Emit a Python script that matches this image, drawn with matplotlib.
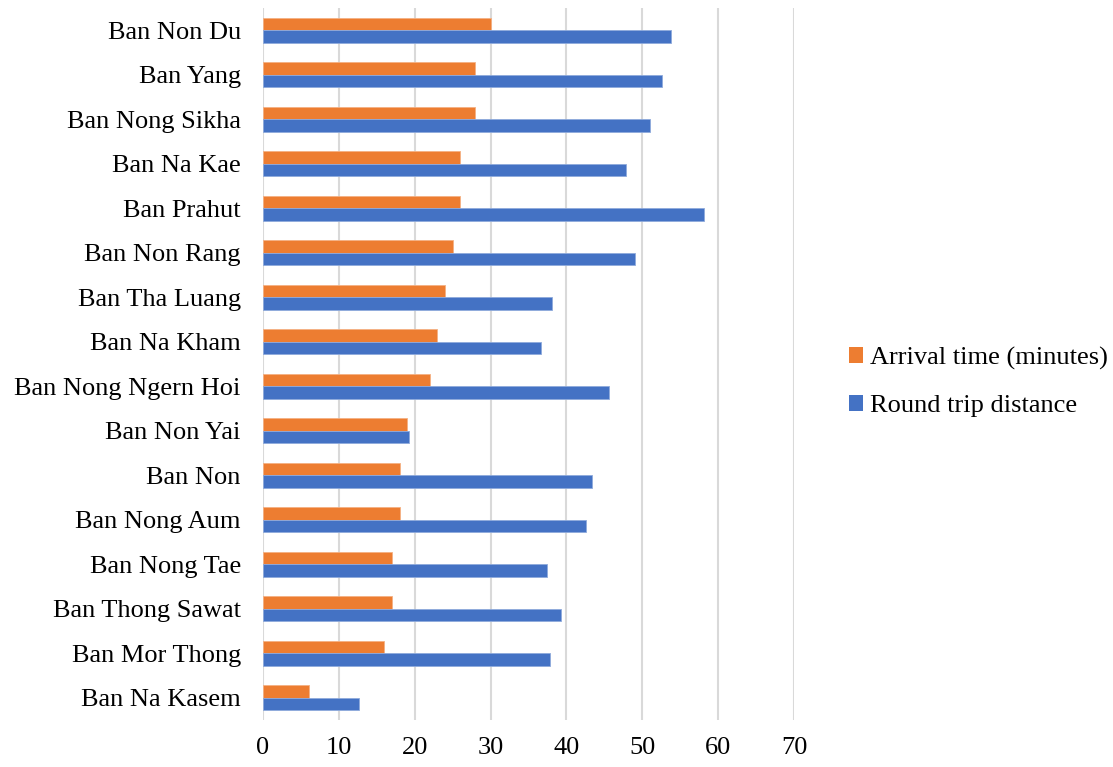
import numpy as np
import matplotlib.pyplot as plt
from matplotlib.patches import Patch

villages = ["Ban Non Du", "Ban Yang", "Ban Nong Sikha", "Ban Na Kae", "Ban Prahut",
            "Ban Non Rang", "Ban Tha Luang", "Ban Na Kham", "Ban Nong Ngern Hoi",
            "Ban Non Yai", "Ban Non", "Ban Nong Aum", "Ban Nong Tae",
            "Ban Thong Sawat", "Ban Mor Thong", "Ban Na Kasem"]
arrival_time = [30, 28, 28, 26, 26, 25, 24, 23, 22, 19, 18, 18, 17, 17, 16, 6]
round_trip = [53.8, 52.6, 51.0, 47.8, 58.1, 49.1, 38.1, 36.7, 45.6, 19.3,
              43.4, 42.6, 37.5, 39.3, 37.8, 12.7]

orange = "#ED7D31"
blue = "#4472C4"

plt.rcParams["font.family"] = ["Liberation Serif", "DejaVu Serif"]

fig = plt.figure(figsize=(11.13, 7.67), dpi=100)
ax = fig.add_axes([0.2363, 0.0613, 0.4771, 0.9283])

y = np.arange(len(villages))
h = 0.285
ax.barh(y - h / 2, arrival_time, height=h, color=orange,
        edgecolor="#f4b183", linewidth=0.6, zorder=3)
ax.barh(y + h / 2, round_trip, height=h, color=blue,
        edgecolor="#8faadc", linewidth=0.6, zorder=3)

ax.set_xlim(0, 70)
ax.set_ylim(len(villages) - 0.5, -0.5)
ax.set_xticks(np.arange(0, 71, 10))
ax.set_yticks(y)
ax.set_yticklabels(villages)
ax.tick_params(axis="both", length=0, labelsize=19, colors="#000000")
ax.tick_params(axis="x", pad=12)
ax.tick_params(axis="y", pad=16)
ax.grid(axis="x", color="#d9d9d9", linewidth=1.5, zorder=0)
for s in ax.spines.values():
    s.set_visible(False)

handles = [Patch(facecolor=orange, label="Arrival time (minutes)"),
           Patch(facecolor=blue, label="Round trip distance")]
fig.legend(handles=handles, loc="center left", bbox_to_anchor=(0.763, 0.502),
           frameon=False, fontsize=19, handlelength=0.53, handleheight=0.53,
           handletextpad=0.25, labelspacing=0.95, borderpad=0, borderaxespad=0)

fig.savefig("out.png", dpi=100)
